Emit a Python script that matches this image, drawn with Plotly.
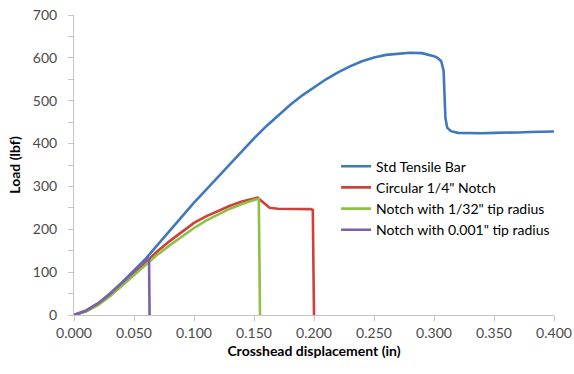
import plotly.graph_objects as go

# ---- data ----
std_x = [0, 0.01, 0.02, 0.03, 0.04, 0.05, 0.06, 0.07, 0.08, 0.09, 0.10, 0.11, 0.12, 0.13,
         0.14, 0.15, 0.16, 0.17, 0.18, 0.19, 0.20, 0.21, 0.22, 0.23, 0.24, 0.25, 0.26, 0.27,
         0.28, 0.29, 0.295, 0.30, 0.303, 0.306, 0.308, 0.309, 0.3095, 0.311, 0.314,
         0.32, 0.33, 0.34, 0.35, 0.36, 0.37, 0.38, 0.39, 0.40]
std_y = [0, 10, 27, 50, 76, 103, 132, 165, 198, 230, 262, 292, 322, 353,
         383, 412, 440, 466, 490, 512, 532, 550, 566, 580, 592, 601, 607, 610,
         612, 611, 608, 604, 600, 592, 570, 500, 460, 437, 429,
         425, 424, 424, 425, 425, 426, 427, 428, 428]

circ_x = [0, 0.01, 0.02, 0.03, 0.04, 0.05, 0.06, 0.07, 0.08, 0.09, 0.10, 0.11, 0.12, 0.13,
          0.14, 0.15, 0.153, 0.158, 0.163, 0.17, 0.18, 0.19, 0.197, 0.199, 0.200]
circ_y = [0, 9, 25, 47, 72, 98, 124, 150, 173, 195, 215, 230, 243, 255,
          265, 272, 274, 262, 250, 248, 248, 247, 247, 245, 0]

n32_x = [0, 0.01, 0.02, 0.03, 0.04, 0.05, 0.06, 0.07, 0.08, 0.09, 0.10, 0.11, 0.12, 0.13,
         0.14, 0.15, 0.153, 0.154, 0.155]
n32_y = [0, 8, 23, 44, 68, 93, 118, 142, 163, 184, 203, 220, 235, 248,
         259, 268, 271, 270, 0]

n001_x = [0, 0.01, 0.02, 0.03, 0.04, 0.05, 0.06, 0.0625, 0.063]
n001_y = [0, 10, 27, 49, 75, 102, 128, 135, 0]

names = ["Std Tensile Bar", "Circular 1/4\" Notch",
         "Notch with 1/32\" tip radius", "Notch with 0.001\" tip radius"]
colors = ["#4078c0", "#d0403a", "#8dc043", "#7f5fa8"]
series = [(std_x, std_y), (circ_x, circ_y), (n32_x, n32_y), (n001_x, n001_y)]

x_ticks = [0, 0.05, 0.10, 0.15, 0.20, 0.25, 0.30, 0.35, 0.40]
y_ticks = [0, 100, 200, 300, 400, 500, 600, 700]

FONT = "Lato"

fig = go.Figure()
for i, ((xs, ys), name, col) in enumerate(zip(series, names, colors)):
    fig.add_trace(go.Scatter(x=xs, y=ys, mode="lines", name=name,
                             line=dict(color=col, width=2.6), legendgroup=f"g{i}"))

axis_common = dict(showline=True, linecolor="#c4c4c4", linewidth=1, showgrid=False,
                   zeroline=False, ticks="outside", ticklen=5, tickcolor="#c4c4c4",
                   automargin=False,
                   tickfont=dict(family=FONT, size=14, color="#4a4a4a"))

fig.update_layout(
    width=574, height=374,
    margin=dict(l=74, r=20, t=15, b=59),
    paper_bgcolor="white", plot_bgcolor="white",
    font=dict(family=FONT),
    xaxis=dict(range=[0, 0.4], tickvals=x_ticks, tickformat=".3f",
               title=dict(text="<b>Crosshead displacement (in)</b>",
                          font=dict(family=FONT, size=14, color="#000000"), standoff=6),
               **axis_common),
    yaxis=dict(range=[0, 700], tickvals=y_ticks,
               minor=dict(tickvals=[50, 150, 250, 350, 450, 550, 650], ticks="outside",
                          ticklen=5, tickcolor="#c4c4c4"),
               title=dict(text="<b>Load (lbf)</b>",
                          font=dict(family=FONT, size=14, color="#000000"), standoff=8),
               ticklabelstandoff=8,
               **axis_common),
    legend=dict(x=0.546, y=0.548, xanchor="left", yanchor="top",
                bgcolor="rgba(0,0,0,0)", borderwidth=0,
                font=dict(family=FONT, size=14, color="#000000"),
                tracegroupgap=4, traceorder="normal"),
    showlegend=True,
)

fig.write_html("out.html")
